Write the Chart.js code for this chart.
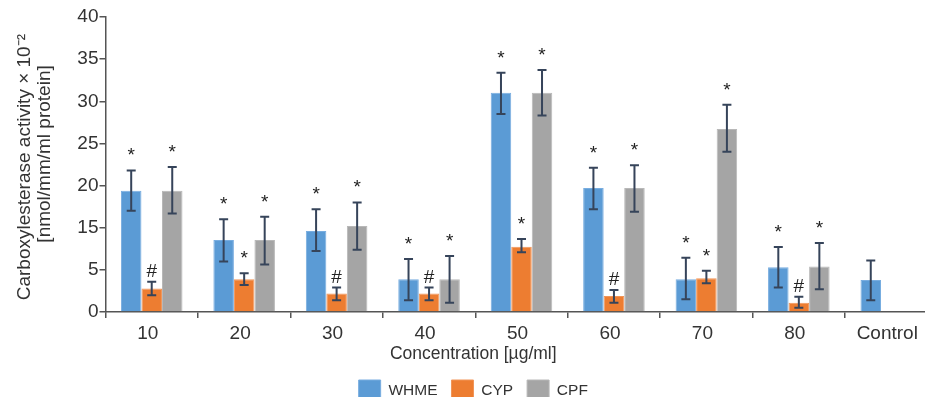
<!DOCTYPE html>
<html>
<head>
<meta charset="utf-8">
<script src="https://cdn.jsdelivr.net/npm/chart.js@4.4.1/dist/chart.umd.min.js"></script>
<style>
  html, body { margin: 0; padding: 0; background: #fff; overflow: hidden; width: 925px; height: 397px; }
  #wrap { position: relative; width: 945px; height: 412px; }
  canvas { display: block; }
</style>
</head>
<body>
<div id="wrap"><canvas id="chart" width="945" height="412"></canvas></div>
<script>
// Concentrations (µg/ml) plus the untreated control
const categories = ['10', '20', '30', '40', '50', '60', '70', '80', 'Control'];
// Labels printed on the y-axis ticks (the axis skips 10)
const yTickLabels = ['0', '5', '15', '20', '25', '30', '35', '40'];

// Carboxylesterase activity, mean with lower / upper error whisker
const whme     = [19.4, 12.1, 14.2, 3.9, 31.0, 19.7, 3.9, 5.6, 3.8];
const whmeLow  = [17.0,  7.0,  9.5, 1.4, 28.5, 17.2, 1.5, 2.9, 1.4];
const whmeHigh = [21.8, 16.0, 17.2, 7.6, 33.4, 22.1, 7.9, 10.4, 7.2];
const whmeMarks = ['*', '*', '*', '*', '*', '*', '*', '*', ''];

const cyp     = [2.8, 3.9, 2.2, 2.2, 10.5, 1.9, 4.0, 1.1, null];
const cypLow  = [2.0, 3.2, 1.4, 1.4,  9.2, 1.1, 3.4, 0.5, null];
const cypHigh = [3.6, 4.6, 2.9, 2.9, 12.3, 2.6, 4.9, 1.8, null];
const cypMarks = ['#', '*', '#', '#', '*', '#', '*', '#', ''];

const cpf     = [19.4, 12.1, 15.2, 3.9, 31.0, 19.7, 26.7, 5.8, null];
const cpfLow  = [16.7,  6.3,  9.8, 1.1, 28.3, 16.9, 24.0, 2.7, null];
const cpfHigh = [22.2, 16.3, 18.0, 8.3, 33.7, 22.4, 29.6, 11.4, null];
const cpfMarks = ['*', '*', '*', '*', '*', '*', '*', '*', ''];

const FONT = '"Liberation Sans", Arial, Helvetica, sans-serif';
const TEXT = '#333333';
const AXIS = '#555555';

// The printed axis runs 0,5,15,20,... at equal spacing, so the 5–15 step is
// half as tall per unit. Map a printed value onto the evenly spaced axis.
function axisValue(v) {
  if (v === null || v === undefined) return null;
  if (v <= 5) return v;
  if (v <= 15) return 5 + (v - 5) / 2;
  return v - 5;
}

const series = [
  { label: 'WHME', values: whme, low: whmeLow, high: whmeHigh, marks: whmeMarks, color: '#5b9bd5', edge: '#78ade0' },
  { label: 'CYP',  values: cyp,  low: cypLow,  high: cypHigh,  marks: cypMarks,  color: '#ed7d31', edge: '#f19558' },
  { label: 'CPF',  values: cpf,  low: cpfLow,  high: cpfHigh,  marks: cpfMarks,  color: '#a5a5a5', edge: '#b8b8b8' }
];

// Whiskers plus the significance symbols above them
const errorBars = {
  id: 'errorBars',
  afterDatasetsDraw(chart) {
    const ctx = chart.ctx;
    const yScale = chart.scales.y;
    ctx.save();
    series.forEach((s, di) => {
      const meta = chart.getDatasetMeta(di);
      meta.data.forEach((bar, i) => {
        if (s.values[i] === null) return;
        const x = bar.x;
        const yHi = yScale.getPixelForValue(axisValue(s.high[i]));
        const yLo = yScale.getPixelForValue(axisValue(s.low[i]));
        ctx.strokeStyle = '#36445a';
        ctx.lineWidth = 2;
        ctx.beginPath();
        ctx.moveTo(x, yLo); ctx.lineTo(x, yHi);
        ctx.moveTo(x - 4.5, yHi); ctx.lineTo(x + 4.5, yHi);
        ctx.moveTo(x - 4.5, yLo); ctx.lineTo(x + 4.5, yLo);
        ctx.stroke();
        const mark = s.marks[i];
        if (mark) {
          ctx.fillStyle = '#222';
          ctx.font = '19px ' + FONT;
          ctx.textAlign = 'center';
          ctx.textBaseline = 'alphabetic';
          ctx.fillText(mark, x, yHi - (mark === '*' ? 9 : 5));
        }
      });
    });
    ctx.restore();
  }
};

new Chart(document.getElementById('chart'), {
  type: 'bar',
  data: {
    labels: categories,
    datasets: series.map(s => ({
      label: s.label,
      data: s.values.map(axisValue),
      backgroundColor: s.color,
      borderColor: s.edge,
      borderWidth: 1,
      barPercentage: 1,
      categoryPercentage: 0.666
    }))
  },
  options: {
    responsive: false,
    animation: false,
    devicePixelRatio: 1,
    layout: { padding: { left: 9, right: 7.5, top: 17, bottom: 0 } },
    plugins: {
      tooltip: { enabled: false },
      title: {
        display: true,
        position: 'bottom',
        weight: 500,
        text: 'Concentration [µg/ml]',
        color: TEXT,
        font: { family: FONT, size: 17.5, weight: 'normal', lineHeight: 1.2 },
        padding: { top: 2, bottom: 1 }
      },
      legend: {
        position: 'bottom',
        labels: {
          boxWidth: 22,
          boxHeight: 22,
          padding: 14,
          color: TEXT,
          font: { family: FONT, size: 15.5 }
        }
      }
    },
    scales: {
      x: {
        afterFit(scale) { scale.height = 30; },
        border: { display: true, color: AXIS, width: 1.5 },
        grid: { offset: true, drawOnChartArea: false, tickLength: 6, color: AXIS, lineWidth: 1.5 },
        ticks: {
          color: TEXT,
          font: { family: FONT, size: 19, lineHeight: 1.1 },
          padding: 5,
          labelOffset: -4,
          maxRotation: 0,
          autoSkip: false
        }
      },
      y: {
        min: 0,
        max: 35,
        afterFit(scale) { scale.width = 96.5; },
        border: { display: true, color: AXIS, width: 1.5 },
        grid: { drawOnChartArea: false, tickLength: 6, color: AXIS, lineWidth: 1.5 },
        ticks: {
          stepSize: 5,
          padding: 1,
          color: TEXT,
          font: { family: FONT, size: 19 },
          callback: (value, index) => yTickLabels[index]
        },
        title: {
          display: true,
          text: ['Carboxylesterase activity × 10⁻² ', '    [nmol/mm/ml protein]'],
          color: TEXT,
          font: { family: FONT, size: 19, lineHeight: 1.05 },
          padding: { top: 6, bottom: 0 }
        }
      }
    }
  },
  plugins: [errorBars]
});
</script>
</body>
</html>
